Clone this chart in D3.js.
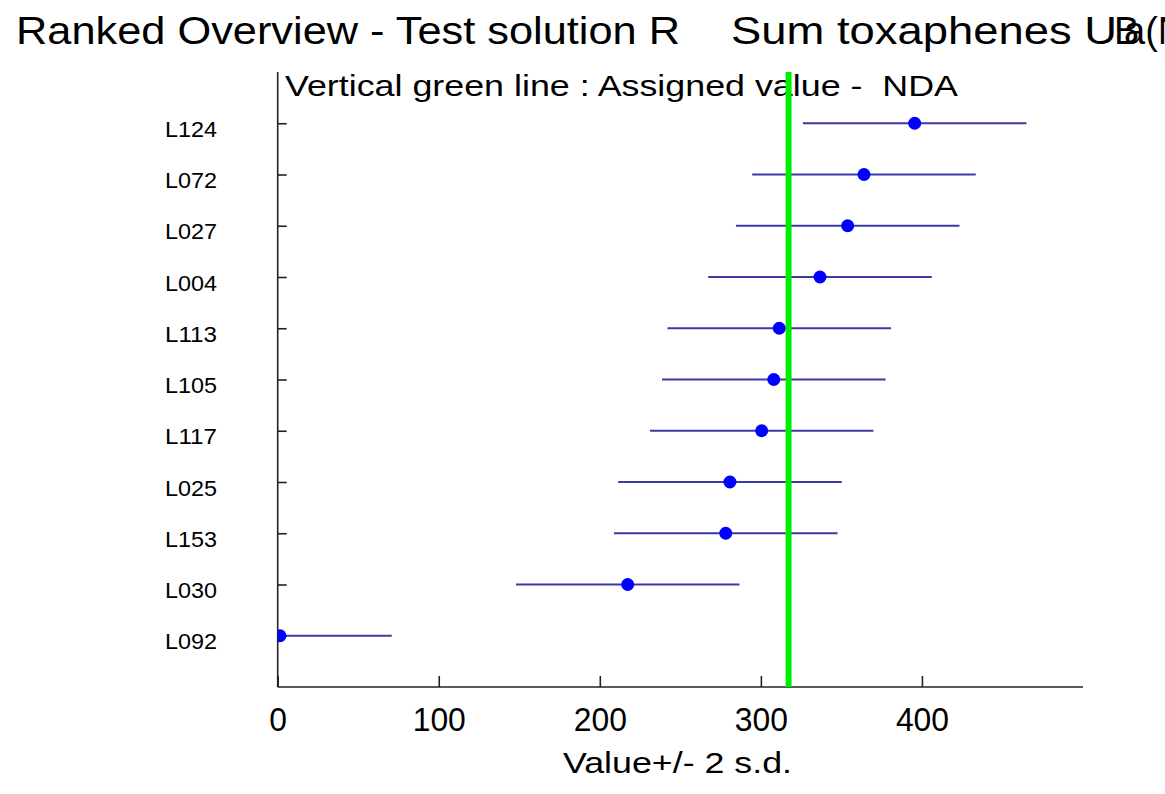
<!DOCTYPE html>
<html>
<head>
<meta charset="utf-8">
<script src="https://cdn.jsdelivr.net/npm/d3@7"></script>
<style>
  body { margin: 0; background: #fff; }
  text { font-family: Arial, "Liberation Sans", sans-serif; fill: #000; white-space: pre; }
</style>
</head>
<body>
<div id="chart"></div>
<script>
// labs, ranked from top to bottom
let labs = ["L124", "L072", "L027", "L004", "L113", "L105", "L117", "L025", "L153", "L030", "L092"];
let values = [395.5, 364.0, 353.9, 336.7, 311.4, 308.0, 300.5, 280.8, 278.2, 217.3, 1.4];
let twoSd = 69.4;            // half width of the interval (2 s.d.)
let assignedValue = 317.2;
let xTicks = [0, 100, 200, 300, 400];

let width = 1165, height = 794;
let plot = {left: 277.7, right: 1083, top: 72, bottom: 687};

let svg = d3.select("#chart").append("svg")
    .attr("width", width)
    .attr("height", height);

let x = d3.scaleLinear()
    .domain([0, 500])
    .range([plot.left, plot.right]);

let y = d3.scalePoint()
    .domain(labs)
    .range([plot.top, plot.bottom])
    .padding(1);

svg.append("clipPath")
    .attr("id", "plot-clip")
    .append("rect")
    .attr("x", plot.left)
    .attr("y", plot.top)
    .attr("width", plot.right - plot.left)
    .attr("height", plot.bottom - plot.top);

// titles (source picture is stretched a bit horizontally, so textLength is used)
svg.append("text")
    .attr("x", 16).attr("y", 44)
    .style("font-size", "38px")
    .attr("textLength", 664).attr("lengthAdjust", "spacingAndGlyphs")
    .text("Ranked Overview - Test solution R");

svg.append("text")
    .attr("x", 731).attr("y", 44)
    .style("font-size", "38px")
    .attr("textLength", 386).attr("lengthAdjust", "spacingAndGlyphs")
    .text("Sum toxaphenes U");
// the source has the unit label printed over itself here
svg.append("text")
    .attr("x", 1114).attr("y", 44)
    .style("font-size", "38px")
    .text("B");
svg.append("text")
    .attr("x", 1124).attr("y", 44)
    .style("font-size", "38px")
    .text("a(N");

svg.append("text")
    .attr("x", 285).attr("y", 96)
    .style("font-size", "29px")
    .attr("textLength", 673).attr("lengthAdjust", "spacingAndGlyphs")
    .text("Vertical green line : Assigned value -  NDA");

// axes
let xAxis = d3.axisBottom(x).tickValues(xTicks).tickSize(-11);
let yAxis = d3.axisLeft(y).tickSize(-9).tickFormat("");

let xAxisGroup = svg.append("g")
    .attr("class", "x-axis axis")
    .attr("transform", "translate(0," + plot.bottom + ")")
    .call(xAxis);

xAxisGroup.select(".domain")
    .attr("d", "M" + plot.left + ",0H" + plot.right);
xAxisGroup.selectAll("text")
    .attr("y", 44)
    .attr("dy", 0)
    .style("font-size", "33px")
    .style("font-family", "Arial, 'Liberation Sans', sans-serif")
    .attr("textLength", d => String(d).length * 17.7)
    .attr("lengthAdjust", "spacingAndGlyphs");

let yAxisGroup = svg.append("g")
    .attr("class", "y-axis axis")
    .attr("transform", "translate(" + plot.left + ",0)")
    .call(yAxis);

yAxisGroup.select(".domain")
    .attr("d", "M0," + plot.top + "V" + plot.bottom);

svg.selectAll(".axis path, .axis line")
    .attr("stroke", "#222")
    .attr("stroke-width", 1.6);

// lab names sit a bit below their ticks
svg.selectAll(".lab-label")
    .data(labs)
    .enter()
    .append("text")
    .attr("class", "lab-label")
    .attr("x", 165)
    .attr("y", d => y(d) + 13.7)
    .style("font-size", "22px")
    .attr("textLength", 52).attr("lengthAdjust", "spacingAndGlyphs")
    .text(d => d);

svg.append("text")
    .attr("x", 563).attr("y", 773)
    .style("font-size", "29px")
    .attr("textLength", 229).attr("lengthAdjust", "spacingAndGlyphs")
    .text("Value+/- 2 s.d.");

// intervals and points
let marks = svg.append("g").attr("clip-path", "url(#plot-clip)");

marks.selectAll(".interval")
    .data(labs)
    .enter()
    .append("line")
    .attr("class", "interval")
    .attr("x1", (d, i) => x(values[i] - twoSd))
    .attr("x2", (d, i) => x(values[i] + twoSd))
    .attr("y1", d => y(d))
    .attr("y2", d => y(d))
    .attr("stroke", "#3a3aa6")
    .attr("stroke-width", 2);

marks.selectAll(".dot")
    .data(labs)
    .enter()
    .append("circle")
    .attr("class", "dot")
    .attr("cx", (d, i) => x(values[i]))
    .attr("cy", d => y(d))
    .attr("r", 6.5)
    .attr("fill", "#0000ff");

// assigned value on top of everything
svg.append("line")
    .attr("x1", x(assignedValue)).attr("x2", x(assignedValue))
    .attr("y1", plot.top).attr("y2", plot.bottom)
    .attr("stroke", "#00ee00")
    .attr("stroke-width", 6);
</script>
</body>
</html>
